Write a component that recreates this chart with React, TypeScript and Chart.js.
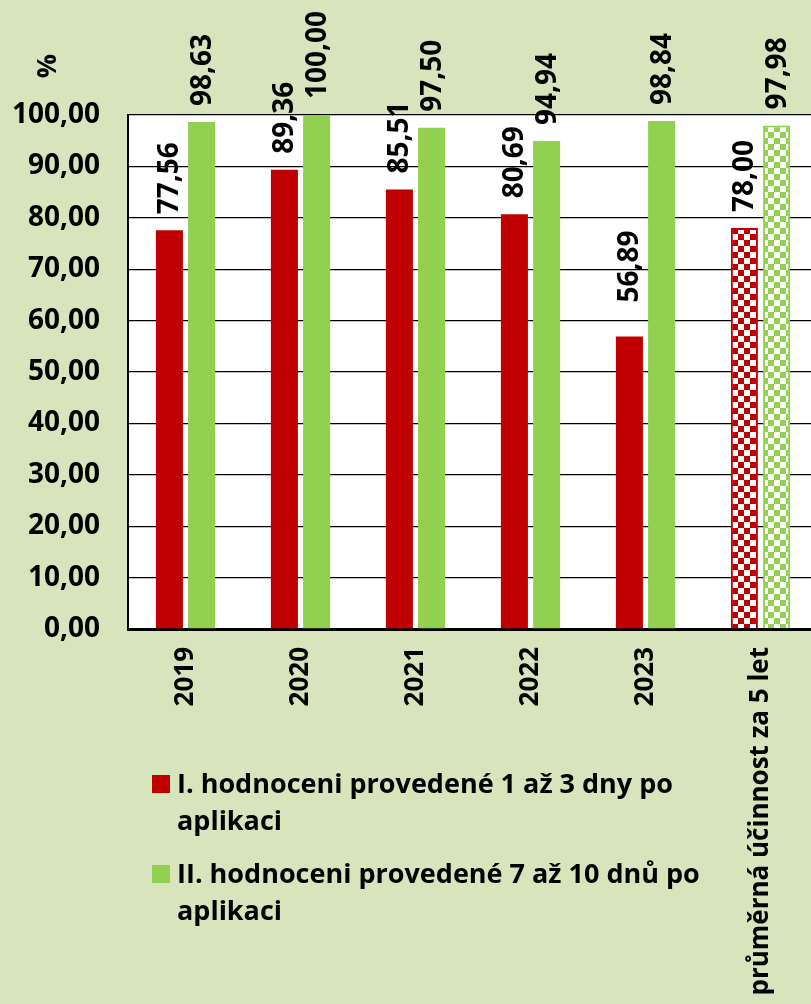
import React, { useEffect, useRef } from "react";
import { Chart, registerables } from "chart.js";

Chart.register(...registerables);

const categories = ["2019", "2020", "2021", "2022", "2023", "průměrná účinnost za 5 let"];
const seriesILabel = "I. hodnoceni provedené 1 až 3 dny po aplikaci";
const seriesIILabel = "II. hodnoceni provedené 7 až 10 dnů po aplikaci";
const seriesI = [77.56, 89.36, 85.51, 80.69, 56.89, 78.0];
const seriesII = [98.63, 100.0, 97.5, 94.94, 98.84, 97.98];
const patternedIndex = [5];
const yMin = 0;
const yMax = 100;
const yStep = 10;
const yAxisTitle = "%";

const RED = "#C00000";
const GREEN = "#92D050";
const BG = "#D8E4BC";
const FONT_FAMILY = "'Open Sans', Lato, sans-serif";
const TEXT_SIZE = 27;
const XTICK_SIZE = 26;
const NUM_SIZE = 28;
const LABEL_GAP = 16;
// extra lift for manually moved data labels: key "dataset-index"
const extraLift: Record<string, number> = { "0-4": 18 };

const fmt = (v: number) => v.toFixed(2).replace(".", ",");

function checker(color: string, size = 6): CanvasPattern {
  const c = document.createElement("canvas");
  c.width = size * 2;
  c.height = size * 2;
  const g = c.getContext("2d")!;
  g.fillStyle = "#ffffff";
  g.fillRect(0, 0, size * 2, size * 2);
  g.fillStyle = color;
  g.fillRect(0, 0, size, size);
  g.fillRect(size, size, size, size);
  return g.createPattern(c, "repeat")!;
}

export default function App() {
  const ref = useRef<HTMLCanvasElement | null>(null);

  useEffect(() => {
    const canvas = ref.current;
    if (!canvas) return;
    const numFont = { family: FONT_FAMILY, size: NUM_SIZE, weight: "bold" as const };
    const xFont = { family: FONT_FAMILY, size: XTICK_SIZE, weight: "bold" as const };

    const redBg = categories.map((_, i) => (patternedIndex.includes(i) ? checker(RED) : RED));
    const greenBg = categories.map((_, i) => (patternedIndex.includes(i) ? checker(GREEN) : GREEN));
    const bw = categories.map((_, i) => (patternedIndex.includes(i) ? 2 : 0));

    const bgPlugin = {
      id: "bgPlugin",
      beforeDraw(chart: any) {
        const { ctx, chartArea } = chart;
        ctx.save();
        ctx.fillStyle = BG;
        ctx.fillRect(0, 0, chart.width, chart.height);
        ctx.fillStyle = "#ffffff";
        ctx.fillRect(chartArea.left, chartArea.top, chartArea.right - chartArea.left, chartArea.bottom - chartArea.top);
        ctx.restore();
      },
    };

    const labelPlugin = {
      id: "labelPlugin",
      afterDatasetsDraw(chart: any) {
        const { ctx } = chart;
        ctx.save();
        ctx.font = `bold ${NUM_SIZE}px ${FONT_FAMILY}`;
        ctx.fillStyle = "#000";
        chart.data.datasets.forEach((ds: any, di: number) => {
          const meta = chart.getDatasetMeta(di);
          meta.data.forEach((el: any, i: number) => {
            const lift = LABEL_GAP + (extraLift[`${di}-${i}`] || 0);
            ctx.save();
            ctx.translate(el.x, el.y - lift);
            ctx.rotate(-Math.PI / 2);
            ctx.textAlign = "left";
            ctx.textBaseline = "middle";
            ctx.fillText(fmt(ds.data[i]), 0, 1);
            ctx.restore();
          });
        });
        ctx.save();
        ctx.font = `bold ${TEXT_SIZE}px ${FONT_FAMILY}`;
        ctx.translate(48, 66);
        ctx.rotate(-Math.PI / 2);
        ctx.textAlign = "center";
        ctx.textBaseline = "middle";
        ctx.fillText(yAxisTitle, 0, 0);
        ctx.restore();
        ctx.restore();
      },
    };

    const legendPlugin = {
      id: "customLegend",
      afterDraw(chart: any) {
        const { ctx } = chart;
        ctx.save();
        ctx.font = `bold ${TEXT_SIZE}px ${FONT_FAMILY}`;
        ctx.fillStyle = "#000";
        ctx.textAlign = "left";
        ctx.textBaseline = "alphabetic";
        const startBaselines = [793, 883];
        const lineH = 37;
        const textX = 177;
        const maxW = 560;
        chart.data.datasets.forEach((ds: any, di: number) => {
          const words: string[] = ds.label.split(" ");
          const lines: string[] = [];
          let cur = "";
          words.forEach((w) => {
            const t = cur ? cur + " " + w : w;
            if (ctx.measureText(t).width > maxW && cur) {
              lines.push(cur);
              cur = w;
            } else cur = t;
          });
          if (cur) lines.push(cur);
          const b0 = startBaselines[di];
          ctx.fillStyle = ds.legendColor;
          ctx.fillRect(152, b0 - 18, 18, 18);
          ctx.fillStyle = "#000";
          lines.forEach((ln, li) => ctx.fillText(ln, textX, b0 + li * lineH));
        });
        ctx.restore();
      },
    };

    const chart = new Chart(canvas, {
      type: "bar",
      data: {
        labels: categories,
        datasets: [
          {
            label: seriesILabel,
            data: seriesI,
            backgroundColor: redBg,
            borderColor: RED,
            borderWidth: bw,
            categoryPercentage: 0.56,
            barPercentage: 0.84,
            legendColor: RED,
          } as any,
          {
            label: seriesIILabel,
            data: seriesII,
            backgroundColor: greenBg,
            borderColor: GREEN,
            borderWidth: bw,
            categoryPercentage: 0.56,
            barPercentage: 0.84,
            legendColor: GREEN,
          } as any,
        ],
      },
      options: {
        responsive: false,
        animation: false,
        layout: { padding: { top: 115, left: 0, right: 0, bottom: 0 } },
        plugins: { legend: { display: false }, tooltip: { enabled: false } },
        scales: {
          x: {
            grid: { display: false, drawTicks: false },
            border: { display: true, color: "#000", width: 3 },
            ticks: {
              font: xFont,
              color: "#000",
              maxRotation: 90,
              minRotation: 90,
              autoSkip: false,
              padding: 18,
            },
            afterFit: (s: any) => {
              s.height = 1004 - 629;
            },
          },
          y: {
            min: yMin,
            max: yMax,
            ticks: {
              stepSize: yStep,
              font: numFont,
              color: "#000",
              padding: 28,
              callback: (v: any) => fmt(Number(v)),
            },
            grid: { color: "#000", lineWidth: 1.3, drawTicks: false },
            border: { display: true, color: "#000", width: 2 },
            afterFit: (s: any) => {
              s.width = 128;
            },
          },
        },
      },
      plugins: [bgPlugin, labelPlugin, legendPlugin],
    });
    return () => chart.destroy();
  }, []);

  return (
    <div
      style={{
        position: "fixed",
        left: 0,
        top: 0,
        width: 811,
        height: 1004,
        overflow: "hidden",
        background: BG,
      }}
    >
      <canvas ref={ref} width={818} height={1004} style={{ display: "block" }} />
    </div>
  );
}
